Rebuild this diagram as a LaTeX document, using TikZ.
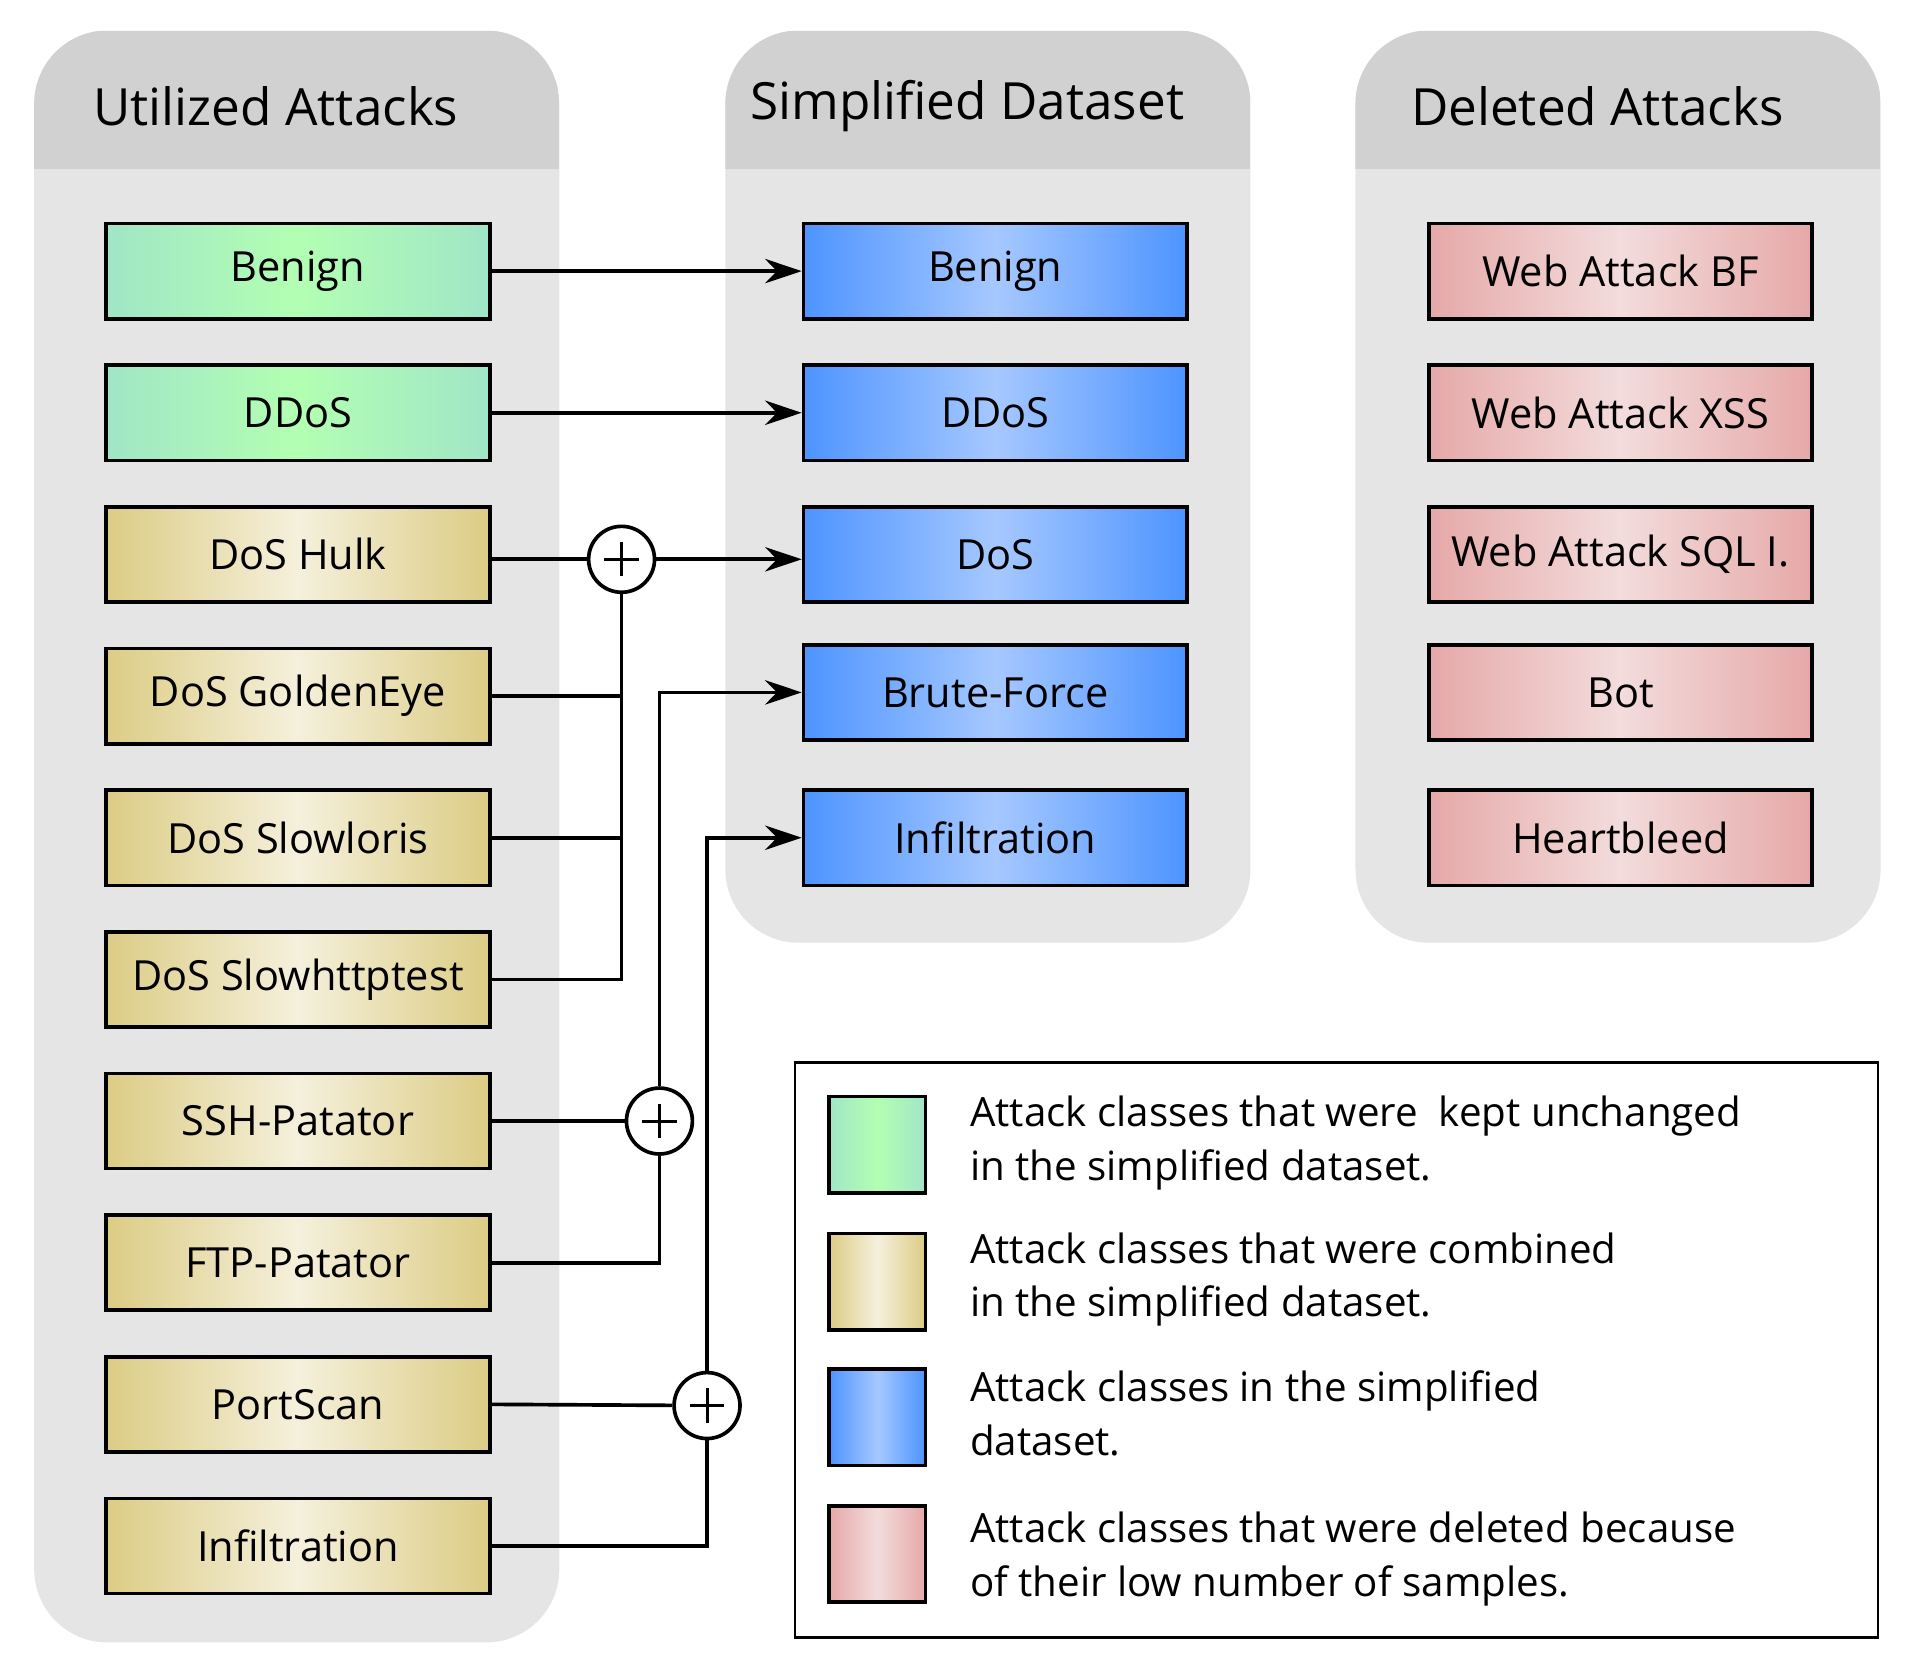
\documentclass[tikz,border=0pt]{standalone}
\usepackage{fontspec}
\setmainfont{Open Sans}
\usetikzlibrary{arrows.meta}
\begin{document}
\begin{tikzpicture}[x=0.5pt,y=-0.5pt,
 panel/.style={fill=black!10,draw=none},
 box/.style={draw=black,line width=1.5pt,minimum width=157pt,minimum height=39pt,inner sep=0pt,font=\fontsize{17}{20}\selectfont},
 grn/.style={box,left color=green!45!cyan!30!white!90!black,right color=green!45!cyan!30!white!90!black,middle color=green!30!white},
 yel/.style={box,left color={rgb,255:red,220;green,204;blue,132},right color={rgb,255:red,220;green,204;blue,132},middle color={rgb,255:red,245;green,240;blue,220}},
 blu/.style={box,left color={rgb,255:red,77;green,148;blue,255},right color={rgb,255:red,77;green,148;blue,255},middle color={rgb,255:red,166;green,200;blue,255}},
 red/.style={box,left color={rgb,255:red,230;green,168;blue,168},right color={rgb,255:red,230;green,168;blue,168},middle color={rgb,255:red,243;green,220;blue,220}},
 plus/.style={circle,draw=black,fill=white,line width=1.5pt,minimum size=27pt,inner sep=0pt,
   path picture={\draw[line width=1.2pt] ([xshift=-7pt]path picture bounding box.center)--([xshift=7pt]path picture bounding box.center);
                 \draw[line width=1.2pt] ([yshift=-7pt]path picture bounding box.center)--([yshift=7pt]path picture bounding box.center);}},
 ln/.style={line width=1.5pt},
 ar/.style={ln,-{Stealth[length=15pt,width=10pt]}},
 title/.style={font=\fontsize{21}{25}\selectfont},
 leg/.style={anchor=north west,align=left,font=\fontsize{16.5}{22}\selectfont,inner sep=0pt}]
\useasboundingbox (0,0) rectangle (1560,1362);
% panels
\foreach \x/\yb/\t/\n in {28/1345/Utilized Attacks/p1,594/772/Simplified Dataset/p2,1110/772/Deleted Attacks/p3}{
  \fill[black!10,rounded corners=30pt] (\x,25) rectangle ++(430,\yb-25);
  \begin{scope}
   \clip[rounded corners=30pt] (\x,25) rectangle ++(430,\yb-25);
   \fill[black!18] (\x,25) rectangle ++(430,113);
  \end{scope}
  \node[title] (\n) at (\x+198,87) {\t};
}
% left boxes
\node[grn] (l1) at (244,222) {Benign};
\node[grn] (l2) at (244,338) {DDoS};
\node[yel] (l3) at (244,454) {DoS Hulk};
\node[yel] (l4) at (244,570) {DoS GoldenEye};
\node[yel] (l5) at (244,686) {DoS Slowloris};
\node[yel] (l6) at (244,802) {DoS Slowhttptest};
\node[yel] (l7) at (244,918) {SSH-Patator};
\node[yel] (l8) at (244,1034) {FTP-Patator};
\node[yel] (l9) at (244,1150) {PortScan};
\node[yel] (l10) at (244,1266) {Infiltration};
% middle
\node[blu] (m1) at (815,222) {Benign};
\node[blu] (m2) at (815,338) {DDoS};
\node[blu] (m3) at (815,454) {DoS};
\node[blu] (m4) at (815,567) {Brute-Force};
\node[blu] (m5) at (815,686) {Infiltration};
% right
\node[red] (r1) at (1327,222) {Web Attack BF};
\node[red] (r2) at (1327,338) {Web Attack XSS};
\node[red] (r3) at (1327,454) {Web Attack SQL I.};
\node[red] (r4) at (1327,567) {Bot};
\node[red] (r5) at (1327,686) {Heartbleed};
% plus nodes
\node[plus] (c1) at (509,458) {};
\node[plus] (c2) at (540,918) {};
\node[plus] (c3) at (579,1151) {};
% connectors
\draw[ar] (l1) -- (m1);
\draw[ar] (l2) -- (m2);
\draw[ln] (l3.east|-c1) -- (c1);
\draw[ar] (c1) -- (m3.west|-c1);
\draw[ln] (l4.east) -- (l4.east-|c1);
\draw[ln] (l5.east) -- (l5.east-|c1);
\draw[ln] (l6.east) -| (c1.south);
\draw[ln] (l7.east) -- (c2);
\draw[ln] (l8.east) -| (c2.south);
\draw[ar] (c2.north) |- (m4.west);
\draw[ln] (l9.east) -- (c3);
\draw[ln] (l10.east) -| (c3.south);
\draw[ar] (c3.north) |- (m5.west);
% legend
\draw[line width=1pt,fill=white] (651,870) rectangle (1538,1341);
\node[grn,minimum width=39.5pt,minimum height=39.5pt] (s1) at (718.5,937.5) {};
\node[yel,minimum width=39.5pt,minimum height=39.5pt] (s2) at (718.5,1049.5) {};
\node[blu,minimum width=39.5pt,minimum height=39.5pt] (s3) at (718.5,1160.5) {};
\node[red,minimum width=39.5pt,minimum height=39.5pt] (s4) at (718.5,1272.5) {};
\node[leg] (t1) at (794,897) {Attack classes that were\ \ kept unchanged\\in the simplified dataset.};
\node[leg] (t2) at (794,1009) {Attack classes that were combined\\in the simplified dataset.};
\node[leg] (t3) at (794,1122) {Attack classes in the simplified\\dataset.};
\node[leg] (t4) at (794,1238) {Attack classes that were deleted because\\of their low number of samples.};
\end{tikzpicture}
\end{document}
